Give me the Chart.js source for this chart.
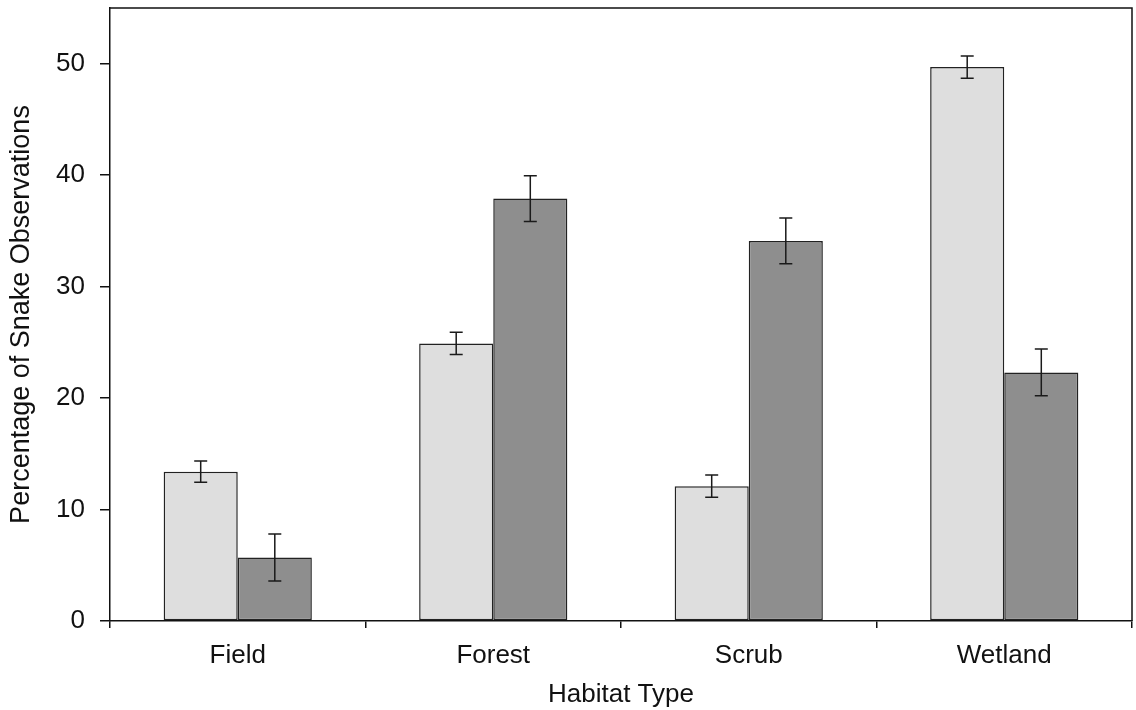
<!DOCTYPE html>
<html>
<head>
<meta charset="utf-8">
<script src="https://cdn.jsdelivr.net/npm/chart.js@4.4.1/dist/chart.umd.min.js"></script>
<style>
  html, body { margin: 0; padding: 0; background: #fff; }
  #wrap { width: 1136px; height: 710px; }
</style>
</head>
<body>
<div id="wrap"><canvas id="chart" width="1136" height="710"></canvas></div>
<script>
// habitat categories and the two series (light / dark bars) with their error values
const habitats = ['Field', 'Forest', 'Scrub', 'Wetland'];
const lightValues = [13.4, 24.9, 12.1, 49.7];
const lightErrors = [0.95, 1.0, 1.0, 1.0];
const darkValues = [5.7, 37.9, 34.1, 22.3];
const darkErrors = [2.1, 2.05, 2.05, 2.1];
const yTicks = [0, 10, 20, 30, 40, 50];

const FONT = 'Liberation Sans, Arial, sans-serif';

// draws the error bars from the scales, plus the top/right frame lines
const errorBarPlugin = {
    id: 'errorBars',
    afterDatasetsDraw(chart) {
        const ctx = chart.ctx;
        const yScale = chart.scales.y;
        const errs = [lightErrors, darkErrors];
        ctx.save();
        ctx.strokeStyle = '#1a1a1a';
        ctx.lineWidth = 1.5;
        chart.data.datasets.forEach((ds, di) => {
            const meta = chart.getDatasetMeta(di);
            meta.data.forEach((bar, i) => {
                const v = ds.data[i];
                const e = errs[di][i];
                const yTop = yScale.getPixelForValue(v + e);
                const yBot = yScale.getPixelForValue(v - e);
                const x = bar.x;
                ctx.beginPath();
                ctx.moveTo(x, yTop); ctx.lineTo(x, yBot);
                ctx.moveTo(x - 6.5, yTop); ctx.lineTo(x + 6.5, yTop);
                ctx.moveTo(x - 6.5, yBot); ctx.lineTo(x + 6.5, yBot);
                ctx.stroke();
            });
        });
        const a = chart.chartArea;
        ctx.strokeStyle = '#111';
        ctx.lineWidth = 1.5;
        ctx.beginPath();
        ctx.moveTo(a.left, a.top);
        ctx.lineTo(a.right, a.top);
        ctx.lineTo(a.right, a.bottom);
        ctx.stroke();
        ctx.restore();
    }
};

const ctx = document.getElementById('chart').getContext('2d');
new Chart(ctx, {
    type: 'bar',
    data: {
        labels: habitats,
        datasets: [{
            label: 'Light',
            data: lightValues,
            backgroundColor: '#dedede',
            borderColor: '#222',
            borderWidth: 1.5,
            borderSkipped: false
        }, {
            label: 'Dark',
            data: darkValues,
            backgroundColor: '#8e8e8e',
            borderColor: '#222',
            borderWidth: 1.5,
            borderSkipped: false
        }]
    },
    options: {
        responsive: false,
        animation: false,
        layout: { padding: { left: 0, right: 4, top: 8, bottom: 0 } },
        datasets: { bar: { categoryPercentage: 0.58, barPercentage: 1.0 } },
        plugins: {
            legend: { display: false },
            tooltip: { enabled: false }
        },
        scales: {
            x: {
                offset: true,
                grid: { display: true, offset: true, drawOnChartArea: false, drawTicks: true, tickLength: 7, color: '#111', lineWidth: 1.5 },
                border: { display: true, color: '#111', width: 1.5 },
                ticks: { color: '#111', font: { family: FONT, size: 26 }, padding: 12 },
                title: { display: true, text: 'Habitat Type', color: '#111', font: { family: FONT, size: 26 }, padding: { top: 0, bottom: 0 } },
                afterFit(scale) { scale.height = 89; scale.paddingLeft = 0; scale.paddingRight = 0; }
            },
            y: {
                min: 0,
                max: 55,
                afterBuildTicks(scale) { scale.ticks = yTicks.map(v => ({ value: v })); },
                grid: { display: true, drawOnChartArea: false, drawTicks: true, tickLength: 10, color: '#111', lineWidth: 1.5 },
                border: { display: true, color: '#111', width: 1.5 },
                ticks: { color: '#111', font: { family: FONT, size: 26 }, padding: 15 },
                title: { display: true, text: 'Percentage of Snake Observations', color: '#111', font: { family: FONT, size: 27 }, padding: { top: 5, bottom: 0 } },
                afterFit(scale) { scale.width = 110; scale.paddingTop = 0; scale.paddingBottom = 0; }
            }
        }
    },
    plugins: [errorBarPlugin]
});
</script>
</body>
</html>
